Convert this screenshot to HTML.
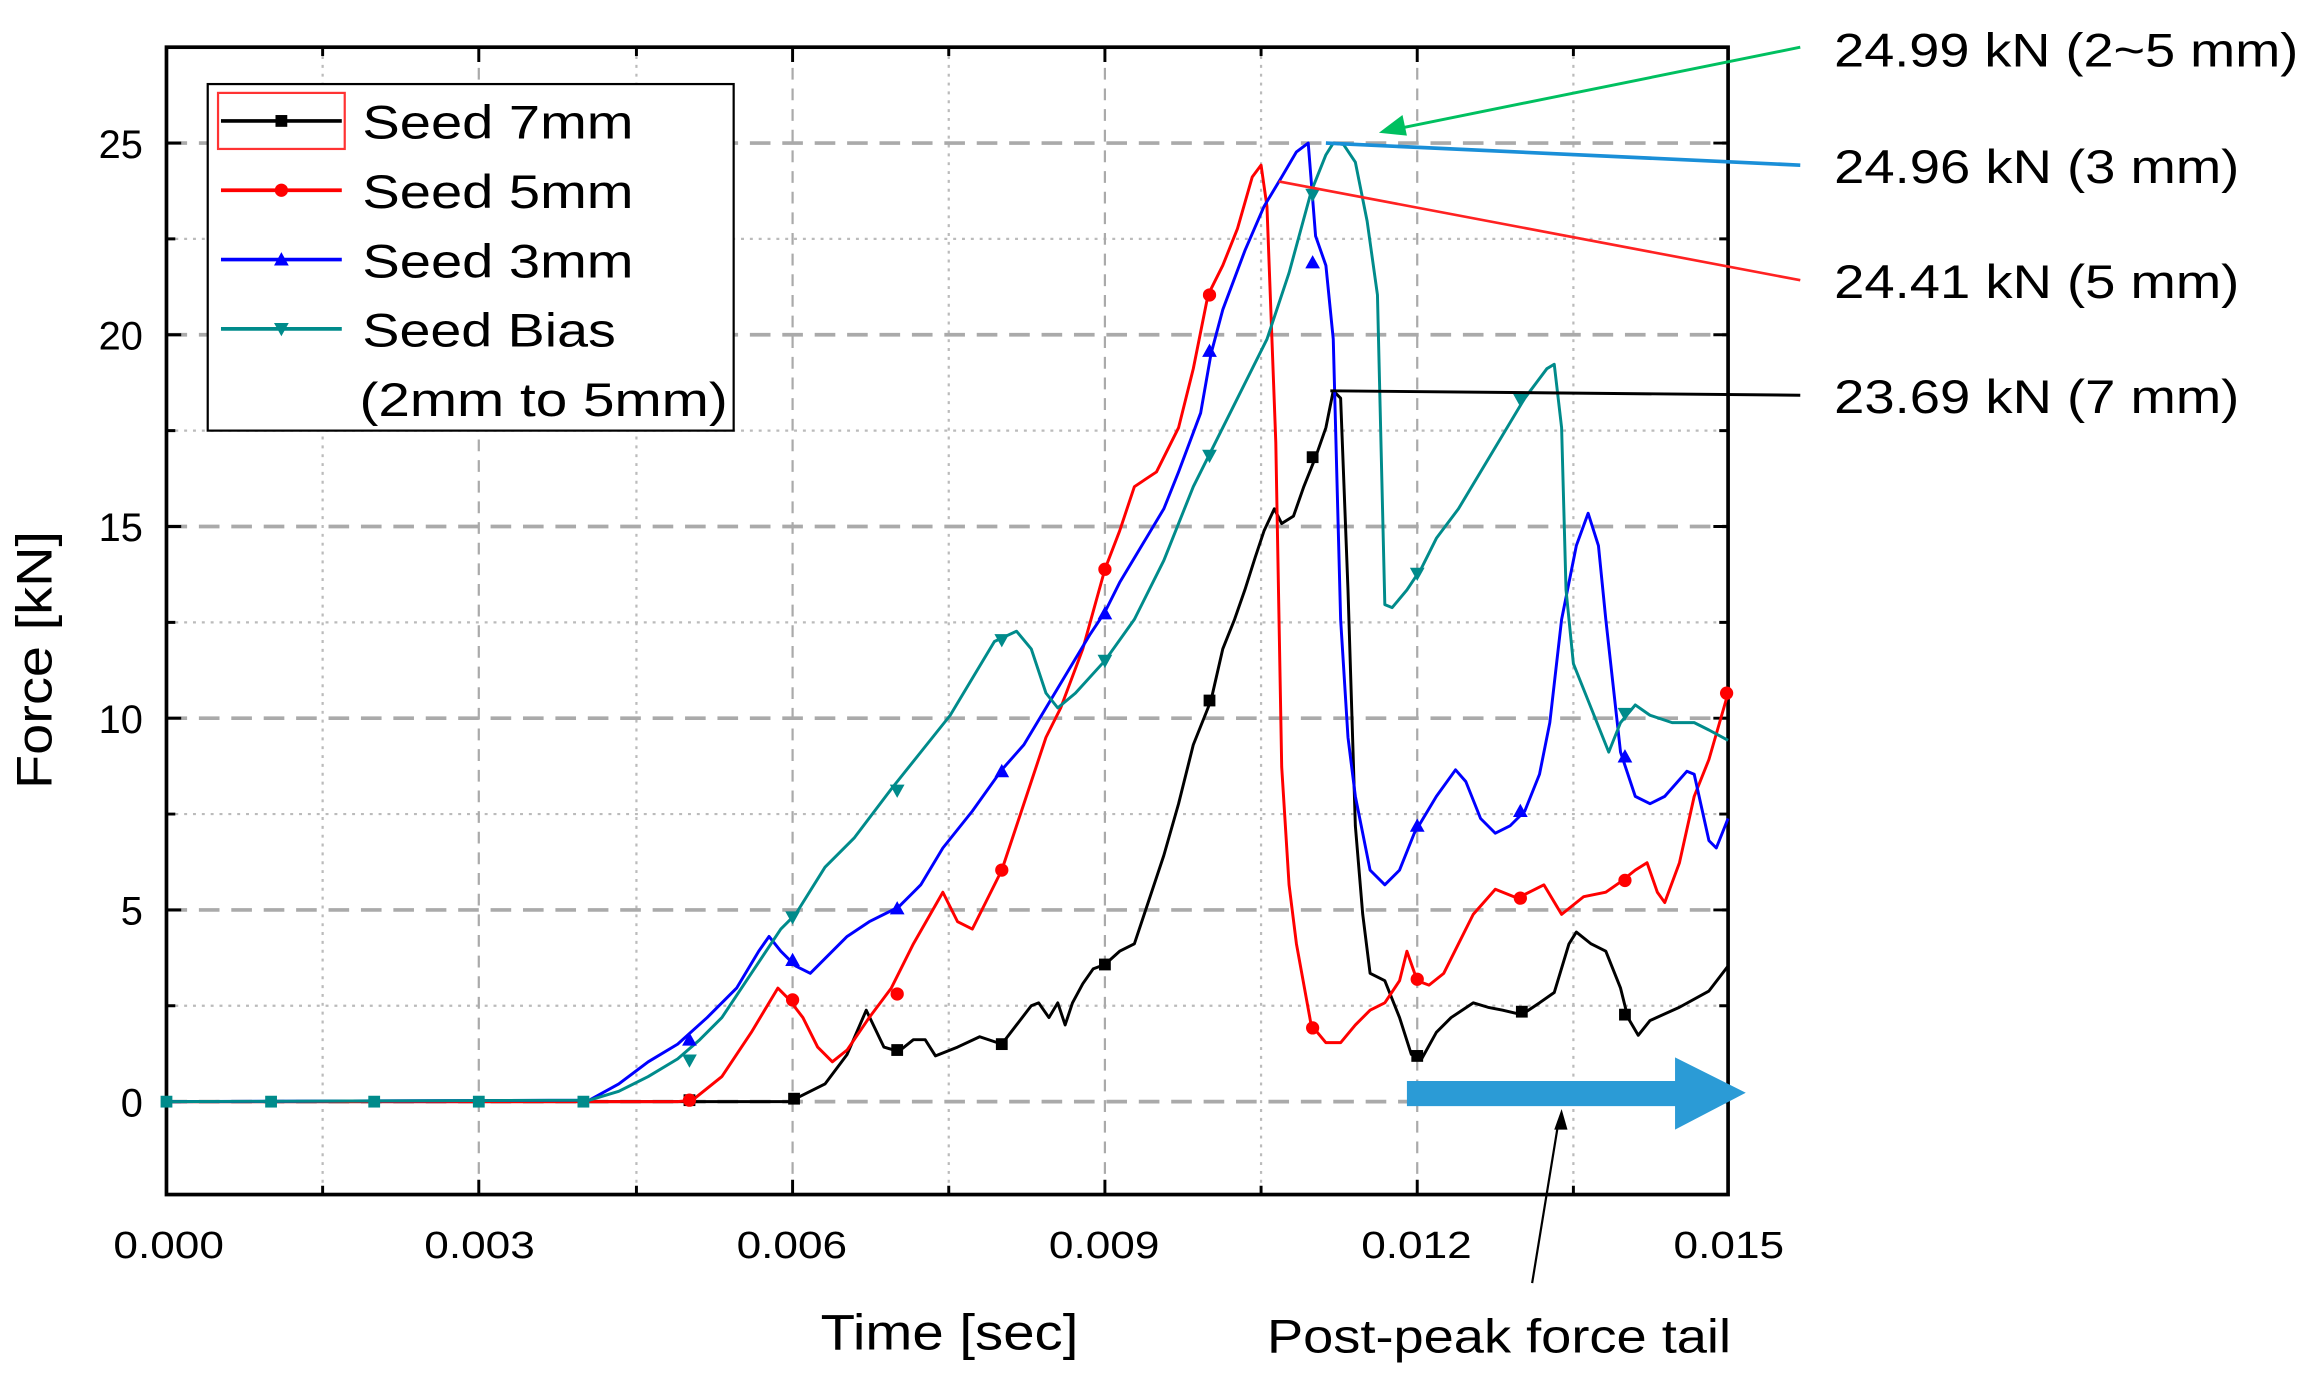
<!DOCTYPE html>
<html><head><meta charset="utf-8"><style>
html,body{margin:0;padding:0;background:#fff;}
svg{display:block;}
text{font-family:"Liberation Sans",sans-serif;}
</style></head><body>
<svg width="2310" height="1373" viewBox="0 0 1568 931" preserveAspectRatio="none" xmlns="http://www.w3.org/2000/svg">
<rect width="1568" height="931" fill="#fff"/>
<g stroke="#bbb" stroke-width="1.5" stroke-dasharray="2 4" fill="none">
<line x1="113" y1="682" x2="1173" y2="682"/><line x1="113" y1="552" x2="1173" y2="552"/>
<line x1="113" y1="422" x2="1173" y2="422"/><line x1="113" y1="292" x2="1173" y2="292"/>
<line x1="113" y1="162" x2="1173" y2="162"/>
<line x1="219" y1="32" x2="219" y2="810"/><line x1="432" y1="32" x2="432" y2="810"/>
<line x1="644" y1="32" x2="644" y2="810"/><line x1="856" y1="32" x2="856" y2="810"/>
<line x1="1068" y1="32" x2="1068" y2="810"/>
</g>
<g stroke="#aaa" stroke-width="2.5" stroke-dasharray="14 8" fill="none">
<line x1="113" y1="747" x2="1173" y2="747"/><line x1="113" y1="617" x2="1173" y2="617"/>
<line x1="113" y1="487" x2="1173" y2="487"/><line x1="113" y1="357" x2="1173" y2="357"/>
<line x1="113" y1="227" x2="1173" y2="227"/><line x1="113" y1="97" x2="1173" y2="97"/>
</g>
<g stroke="#aaa" stroke-width="1.5" stroke-dasharray="8 6" fill="none">
<line x1="325" y1="32" x2="325" y2="810"/><line x1="538" y1="32" x2="538" y2="810"/>
<line x1="750" y1="32" x2="750" y2="810"/><line x1="962" y1="32" x2="962" y2="810"/>
</g>
<g stroke="#000" stroke-width="2">
<path d="M113,32V42M219,32V38M325,32V42M432,32V38M538,32V42M644,32V38M750,32V42M856,32V38M962,32V42M1068,32V38
M113,810V800M219,810V804M325,810V800M432,810V804M538,810V800M644,810V804M750,810V800M856,810V804M962,810V800M1068,810V804
M113,747H123M113,617H123M113,487H123M113,357H123M113,227H123M113,97H123M113,682H119M113,552H119M113,422H119M113,292H119M113,162H119
M1173,747H1163M1173,617H1163M1173,487H1163M1173,357H1163M1173,227H1163M1173,97H1163M1173,682H1167M1173,552H1167M1173,422H1167M1173,292H1167M1173,162H1167"/>
</g>
<rect x="113" y="32" width="1060" height="778" fill="none" stroke="#000" stroke-width="2.5"/>
<g fill="none" stroke-width="2" stroke-linejoin="round">
<polyline stroke="#000" points="113,747 540,747 540,745 560,735 575,715 588,685 600,710 610,713 620,705 628,705 635,716 650,710 665,703 680,708 690,695 700,682 705,680 712,690 718,680 723,695 728,680 735,667 742,657 750,654 760,645 770,640 780,610 790,580 800,545 810,505 822,475 830,440 838,420 845,400 852,378 858,360 865,345 870,355 878,350 885,330 893,310 900,290 905,265 910,270 915,400 920,560 925,620 930,660 940,665 950,690 958,715 965,718 975,700 985,690 1000,680 1010,683 1020,685 1033,688 1045,680 1055,673 1065,640 1070,632 1080,640 1090,645 1100,670 1105,690 1112,702 1120,692 1140,683 1160,672 1173,655"/>
<polyline stroke="#ff0000" points="113,747 460,747 470,746 490,730 510,700 528,670 535,677 545,690 555,710 565,720 575,712 590,690 605,670 620,640 640,605 650,625 660,630 670,610 680,590 690,560 700,530 710,500 720,480 735,440 750,386 760,360 770,330 785,320 800,290 810,250 820,200 830,180 840,155 850,120 856,112 860,140 866,300 870,520 875,600 880,640 890,695 900,707 910,707 920,695 930,685 940,680 950,665 955,645 962,665 970,668 980,660 990,640 1000,620 1015,603 1030,609 1048,600 1060,620 1075,608 1090,605 1100,598 1110,590 1118,585 1125,605 1130,612 1140,585 1150,540 1160,515 1173,470"/>
<polyline stroke="#0000ff" points="113,747 400,746 420,735 440,720 460,708 480,690 500,670 515,645 522,635 530,645 540,655 550,660 560,650 575,635 590,625 610,615 625,600 640,575 660,550 680,522 695,505 710,480 725,455 740,430 750,415 760,395 775,370 790,345 800,320 815,280 822,240 830,210 845,170 858,140 870,120 880,103 888,97 893,160 900,180 905,230 910,420 915,500 920,540 930,590 940,600 950,590 960,565 975,540 988,522 995,530 1005,555 1015,565 1025,560 1035,550 1045,525 1052,490 1060,420 1070,370 1078,348 1085,370 1090,420 1100,510 1110,540 1120,545 1130,540 1145,523 1150,525 1160,570 1165,575 1173,555"/>
<polyline stroke="#008b8b" points="113,747 400,746 420,740 440,730 460,718 475,705 490,690 510,660 530,630 540,620 560,588 580,568 605,535 625,510 645,485 660,460 675,435 690,428 700,440 710,470 718,480 730,470 750,448 770,420 790,380 810,330 825,300 840,270 860,230 875,185 890,130 900,105 905,97 912,98 920,110 928,150 935,200 940,410 945,412 955,400 965,385 975,365 990,345 1005,320 1020,295 1035,270 1050,250 1055,247 1060,290 1063,400 1068,450 1080,480 1092,510 1100,490 1110,478 1120,485 1135,490 1150,490 1160,495 1173,502"/>
</g>
<g fill="#000"><rect x="464" y="742" width="8" height="8"/><rect x="535" y="741" width="8" height="8"/><rect x="605" y="708" width="8" height="8"/><rect x="676" y="704" width="8" height="8"/><rect x="746" y="650" width="8" height="8"/><rect x="817" y="471" width="8" height="8"/><rect x="887" y="306" width="8" height="8"/><rect x="958" y="712" width="8" height="8"/><rect x="1029" y="682" width="8" height="8"/><rect x="1099" y="684" width="8" height="8"/></g>
<g fill="#f00"><circle cx="468" cy="746" r="4.5"/><circle cx="538" cy="678" r="4.5"/><circle cx="609" cy="674" r="4.5"/><circle cx="680" cy="590" r="4.5"/><circle cx="750" cy="386" r="4.5"/><circle cx="821" cy="200" r="4.5"/><circle cx="891" cy="697" r="4.5"/><circle cx="962" cy="664" r="4.5"/><circle cx="1032" cy="609" r="4.5"/><circle cx="1103" cy="597" r="4.5"/><circle cx="1172" cy="470" r="4.5"/></g>
<g fill="#00f"><path d="M468,700l5,9h-10z M538,646l5,9h-10z M609,611l5,9h-10z M680,518l5,9h-10z M750,411l5,9h-10z M821,233l5,9h-10z M891,173l5,9h-10z M962,555l5,9h-10z M1032,545l5,9h-10z M1103,508l5,9h-10z"/></g>
<g fill="#008b8b"><path d="M468,724l5,-9h-10z M538,627l5,-9h-10z M609,541l5,-9h-10z M680,439l5,-9h-10z M750,453l5,-9h-10z M821,314l5,-9h-10z M891,137l5,-9h-10z M962,394l5,-9h-10z M1032,276l5,-9h-10z M1103,489l5,-9h-10z"/></g>
<g><rect x="109" y="743" width="8" height="8" fill="#008b8b"/><rect x="180" y="743" width="8" height="8" fill="#008b8b"/><rect x="250" y="743" width="8" height="8" fill="#008b8b"/><rect x="321" y="743" width="8" height="8" fill="#008b8b"/><rect x="392" y="743" width="8" height="8" fill="#008b8b"/></g>
<rect x="141" y="57" width="357" height="235" fill="#fff" stroke="#000" stroke-width="1.5"/>
<rect x="148" y="63" width="86" height="38" fill="none" stroke="#f33" stroke-width="1.5"/>
<g stroke-width="2.5"><line x1="150" y1="82" x2="232" y2="82" stroke="#000"/><line x1="150" y1="129" x2="232" y2="129" stroke="#f00"/><line x1="150" y1="176" x2="232" y2="176" stroke="#00f"/><line x1="150" y1="223" x2="232" y2="223" stroke="#008b8b"/></g>
<rect x="187" y="78" width="8" height="8" fill="#000"/><circle cx="191" cy="129" r="4.5" fill="#f00"/><path d="M191,171l5,9h-10z" fill="#00f"/><path d="M191,228l5,-9h-10z" fill="#008b8b"/>
<g font-size="32" fill="#000" lengthAdjust="spacingAndGlyphs"><text x="246" y="94" textLength="184" lengthAdjust="spacingAndGlyphs">Seed 7mm</text><text x="246" y="141" textLength="184" lengthAdjust="spacingAndGlyphs">Seed 5mm</text><text x="246" y="188" textLength="184" lengthAdjust="spacingAndGlyphs">Seed 3mm</text><text x="246" y="235" textLength="172" lengthAdjust="spacingAndGlyphs">Seed Bias</text><text x="244" y="282" textLength="250" lengthAdjust="spacingAndGlyphs">(2mm to 5mm)</text></g>
<g font-size="26" fill="#000"><text x="77" y="853" textLength="75" lengthAdjust="spacingAndGlyphs">0.000</text><text x="288" y="853" textLength="75" lengthAdjust="spacingAndGlyphs">0.003</text><text x="500" y="853" textLength="75" lengthAdjust="spacingAndGlyphs">0.006</text><text x="712" y="853" textLength="75" lengthAdjust="spacingAndGlyphs">0.009</text><text x="924" y="853" textLength="75" lengthAdjust="spacingAndGlyphs">0.012</text><text x="1136" y="853" textLength="75" lengthAdjust="spacingAndGlyphs">0.015</text></g>
<g font-size="27" fill="#000" text-anchor="end"><text x="97" y="757">0</text><text x="97" y="627">5</text><text x="97" y="497">10</text><text x="97" y="367">15</text><text x="97" y="237">20</text><text x="97" y="107">25</text></g>
<text x="557" y="915" font-size="34" textLength="175" lengthAdjust="spacingAndGlyphs">Time [sec]</text>
<text transform="translate(35,535) rotate(-90)" font-size="34" textLength="175" lengthAdjust="spacingAndGlyphs">Force [kN]</text>
<text x="860" y="917" font-size="32" textLength="315" lengthAdjust="spacingAndGlyphs">Post-peak  force tail</text>
<g font-size="32" fill="#000"><text x="1245" y="45" textLength="315" lengthAdjust="spacingAndGlyphs">24.99 kN (2~5 mm)</text><text x="1245" y="124" textLength="275" lengthAdjust="spacingAndGlyphs">24.96 kN (3 mm)</text><text x="1245" y="202" textLength="275" lengthAdjust="spacingAndGlyphs">24.41 kN (5 mm)</text><text x="1245" y="280" textLength="275" lengthAdjust="spacingAndGlyphs">23.69 kN (7 mm)</text></g>
<line x1="1222" y1="32" x2="950" y2="87" stroke="#00c060" stroke-width="2"/><path d="M936,90l16,-12l3,14z" fill="#00c060"/>
<line x1="1222" y1="112" x2="900" y2="97" stroke="#1a8fd8" stroke-width="2.5"/>
<line x1="1222" y1="190" x2="868" y2="123" stroke="#f22" stroke-width="1.8"/>
<line x1="1222" y1="268" x2="903" y2="265" stroke="#000" stroke-width="2"/>
<path d="M955,733H1137V717L1185,741L1137,766V750H955z" fill="#2b9bd6"/>
<line x1="1040" y1="870" x2="1058" y2="760" stroke="#000" stroke-width="1.5"/><path d="M1060,752l4,14h-9z" fill="#000"/>
</svg>
</body></html>
